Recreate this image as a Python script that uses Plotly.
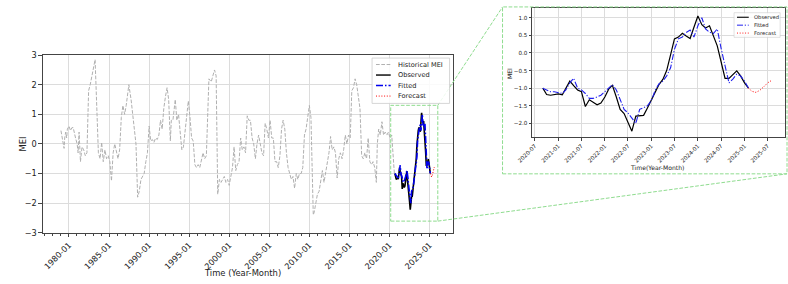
import plotly.graph_objects as go
import pandas as pd

W, H = 788, 284

# ---------------- data ----------------
hist_year = [1979.00, 1979.18, 1979.39, 1979.47, 1979.59, 1979.71, 1979.80, 1980.00, 1980.20, 1980.37,
             1980.53, 1980.82, 1981.02, 1981.14, 1981.26, 1981.43, 1981.63, 1981.84, 1982.04, 1982.24,
             1982.45, 1982.65, 1982.86, 1983.06, 1983.26, 1983.67, 1983.88, 1984.08, 1984.28, 1984.49,
             1984.69, 1984.90, 1985.10, 1985.30, 1985.51, 1985.71, 1985.92, 1986.12, 1986.32, 1986.53,
             1986.73, 1986.94, 1987.14, 1987.47, 1987.75, 1988.16, 1988.36, 1988.57, 1988.77, 1988.98,
             1989.18, 1989.38, 1989.59, 1989.79, 1990.00, 1990.20, 1990.40, 1990.60, 1990.81, 1991.02,
             1991.22, 1991.42, 1991.63, 1991.83, 1992.04, 1992.24, 1992.44, 1992.65, 1992.77, 1992.97,
             1993.26, 1993.46, 1993.67, 1993.87, 1994.08, 1994.28, 1994.48, 1994.69, 1994.89, 1995.10,
             1995.30, 1995.50, 1995.71, 1995.91, 1996.12, 1996.32, 1996.52, 1996.73, 1996.93, 1997.14,
             1997.46, 1997.75, 1997.95, 1998.16, 1998.36, 1998.56, 1998.77, 1998.97, 1999.18, 1999.38,
             1999.58, 1999.79, 1999.99, 2000.20, 2000.40, 2000.60, 2000.81, 2001.01, 2001.22, 2001.42,
             2001.62, 2001.83, 2002.03, 2002.24, 2002.44, 2002.64, 2002.85, 2003.05, 2003.26, 2003.46,
             2003.66, 2003.87, 2004.07, 2004.28, 2004.48, 2004.68, 2004.89, 2005.09, 2005.30, 2005.50,
             2005.70, 2005.91, 2006.11, 2006.32, 2006.52, 2006.72, 2006.93, 2007.13, 2007.34, 2007.54,
             2007.74, 2007.95, 2008.15, 2008.36, 2008.56, 2008.76, 2008.97, 2009.17, 2009.38, 2009.58,
             2009.78, 2009.99, 2010.19, 2010.48, 2010.60, 2010.80, 2011.00, 2011.21, 2011.42, 2011.62,
             2011.82, 2012.03, 2012.23, 2012.44, 2012.64, 2012.84, 2013.05, 2013.25, 2013.46, 2013.66,
             2013.86, 2014.07, 2014.27, 2014.48, 2014.68, 2014.88, 2015.09, 2015.29, 2015.50, 2015.70,
             2015.90, 2016.11, 2016.31, 2016.52, 2016.72, 2016.92, 2017.13, 2017.33, 2017.54, 2017.74,
             2017.94, 2018.15, 2018.35, 2018.47, 2018.64, 2018.84, 2019.05, 2019.25, 2019.45, 2019.66,
             2019.86, 2020.06, 2020.27, 2020.60]
hist_mei = [0.45, 0.10, -0.15, 0.20, 0.40, 0.20, 0.50, 0.60, 0.45, 0.55,
            0.55, 0.20, 0.00, -0.30, 0.40, -0.60, -0.10, -0.20, -0.40, -0.30,
            1.80, 2.00, 2.30, 2.60, 2.85, -0.30, -0.50, 0.05, -0.60, -0.20,
            -0.50, -0.40, -0.60, -1.25, -0.30, 0.00, -0.30, -0.50, -0.20, 0.90,
            1.30, 1.00, 1.30, 2.00, 1.50, 0.50, 0.00, -1.80, -1.60, -1.20,
            -1.10, -1.00, -0.60, -0.30, 0.60, 0.10, 0.15, 0.05, 0.20, 0.15,
            0.30, 0.80, 0.50, 1.20, 1.60, 1.90, 1.50, 0.10, 0.80, 0.80,
            1.50, 0.80, 1.00, 0.50, -0.20, -0.10, 0.50, 1.00, 1.45, 0.90,
            0.20, 0.10, -0.70, -0.80, -0.70, -0.80, -0.60, -0.30, -0.50, -0.40,
            2.20, 2.10, 2.30, 2.50, 2.30, -1.70, -1.20, -1.30, -1.20, -1.10,
            -1.30, -1.20, -1.40, -1.10, -0.80, -0.10, -0.90, -0.70, -0.60, 0.20,
            -0.20, -0.10, -0.30, 0.95, 0.80, 0.80, 0.20, 0.00, -0.50, 0.00,
            0.30, 0.00, -0.30, -0.40, 0.70, 0.50, 0.20, 0.80, 0.20, 0.20,
            -0.60, -0.60, -0.80, -0.40, 0.50, 0.80, 0.50, -0.30, -0.80, -1.00,
            -1.20, -1.10, -1.50, -1.00, -1.20, -1.00, -1.00, -0.80, 0.30, 0.50,
            0.90, 1.30, 0.90, -2.40, -2.30, -2.00, -1.70, -1.60, -1.30, -0.90,
            -1.30, -1.00, -0.60, -0.30, 0.25, -0.20, -0.10, -0.30, -1.15, -0.50,
            -0.30, -0.50, -0.20, 0.30, 0.00, 0.30, 0.20, 1.80, 1.90, 2.20,
            2.00, 1.60, 1.20, -0.40, -0.50, -0.30, -0.50, 0.20, -0.60, -0.70,
            -0.60, -0.80, -1.30, 0.00, 0.50, 0.30, 0.75, 0.30, 0.40, 0.30,
            0.40, 0.20, 0.30, -1.00]

obs_start = "2020-09-01"   # monthly, 2020-09 .. 2025-02
obs_mei = [-1.00, -1.18, -1.20, -1.17, -1.16, -1.19, -1.00, -0.80, -0.93, -1.05,
           -1.10, -1.52, -1.33, -1.40, -1.47, -1.42, -1.25, -1.02, -0.92, -1.25,
           -1.60, -1.72, -1.95, -2.22, -1.79, -1.77, -1.77, -1.56, -1.32, -1.10,
           -0.90, -0.75, -0.50, -0.05, 0.40, 0.45, 0.56, 0.48, 0.41, 0.73,
           1.05, 0.80, 0.71, 0.77, 0.50, 0.20, -0.25, -0.72, -0.72, -0.62,
           -0.51, -0.65, -0.85, -1.00]
fit_mei = [-1.00, -1.05, -1.10, -1.10, -1.12, -1.15, -1.05, -0.85, -0.72, -1.00,
           -1.05, -1.15, -1.29, -1.29, -1.25, -1.20, -1.10, -0.98, -0.90, -1.05,
           -1.35, -1.60, -1.70, -1.85, -2.00, -1.60, -1.54, -1.50, -1.35, -1.05,
           -0.88, -0.80, -0.65, -0.42, 0.10, 0.40, 0.45, 0.58, 0.65, 0.45,
           0.77, 1.00, 0.68, 0.59, 0.55, 0.68, 0.13, -0.35, -0.85, -0.74,
           -0.60, -0.65, -0.80, -1.00]
fc_start = "2025-02-01"
fc_mei = [-1.00, -1.09, -1.12, -1.06, -0.96, -0.85, -0.78]

main_ticks = ["1980-01", "1985-01", "1990-01", "1995-01", "2000-01", "2005-01",
              "2010-01", "2015-01", "2020-01", "2025-01"]
inset_ticks = ["2020-07", "2021-01", "2021-07", "2022-01", "2022-07", "2023-01",
               "2023-07", "2024-01", "2024-07", "2025-01", "2025-07"]


def yr2date(y):
    yi = int(y)
    start = pd.Timestamp(year=yi, month=1, day=1)
    return start + pd.Timedelta(days=(y - yi) * 365.25)


hist_x = [yr2date(v) for v in hist_year]
obs_x = pd.date_range(obs_start, periods=len(obs_mei), freq="MS")
fit_x = pd.date_range(obs_start, periods=len(fit_mei), freq="MS")
fc_x = pd.date_range(fc_start, periods=len(fc_mei), freq="MS")

FONT = "DejaVu Sans"
GREEN = "#8fdc8f"
GRID = "#dcdcdc"
AX = "#444444"
HIST = "#b0b0b0"
DASH = "3.7px,1.6px"
GDASH = "3.7px,1.6px"
DASHDOT_MAIN = "7px,2px,1.5px,2px"
DASHDOT_INSET = "6px,1.8px,1.2px,1.8px"
DOT = "1px,1.7px"


def px(x):
    return x / W


def py(y):
    return 1 - y / H


fig = go.Figure()

# ---- main panel
fig.add_trace(go.Scatter(x=hist_x, y=hist_mei, mode="lines", xaxis="x", yaxis="y",
                         line=dict(color=HIST, width=1, dash=DASH), showlegend=False))
fig.add_trace(go.Scatter(x=obs_x, y=obs_mei, mode="lines", xaxis="x", yaxis="y",
                         line=dict(color="black", width=1.6), showlegend=False))
fig.add_trace(go.Scatter(x=fit_x, y=fit_mei, mode="lines", xaxis="x", yaxis="y",
                         line=dict(color="#0000ee", width=1.6, dash=DASHDOT_MAIN), showlegend=False))
fig.add_trace(go.Scatter(x=fc_x, y=fc_mei, mode="lines", xaxis="x", yaxis="y",
                         line=dict(color="red", width=1, dash=DOT), showlegend=False))

# ---- inset panel
fig.add_trace(go.Scatter(x=obs_x, y=obs_mei, mode="lines", xaxis="x2", yaxis="y2",
                         line=dict(color="black", width=1.2), showlegend=False))
fig.add_trace(go.Scatter(x=fit_x, y=fit_mei, mode="lines", xaxis="x2", yaxis="y2",
                         line=dict(color="#2020ee", width=1.1, dash=DASHDOT_INSET), showlegend=False))
fig.add_trace(go.Scatter(x=fc_x, y=fc_mei, mode="lines", xaxis="x2", yaxis="y2",
                         line=dict(color="red", width=1, dash=DOT), showlegend=False))

axis_common = dict(showline=True, mirror=True, linecolor=AX, linewidth=0.8,
                   ticks="outside", tickcolor=AX, showgrid=True, gridcolor=GRID,
                   gridwidth=1, zeroline=False)

fig.update_layout(
    width=W, height=H, autosize=False,
    margin=dict(l=0, r=0, t=0, b=0),
    paper_bgcolor="white", plot_bgcolor="white",
    font=dict(family=FONT, color="#222222"),
    xaxis=dict(domain=[px(28.3), px(446.7)], anchor="y", type="date",
               range=["1976-09-24", "2027-12-10"],
               tickvals=[t + "-01" for t in main_ticks], ticktext=main_ticks,
               tickangle=-45, tickfont=dict(size=8.2), ticklen=3.5,
               minor=dict(ticks="outside", dtick="M12", ticklen=2, tickcolor=AX, showgrid=False),
               **axis_common),
    yaxis=dict(domain=[py(236), py(52)], anchor="x", range=[-3, 3], dtick=1,
               tickfont=dict(size=8.2), ticklen=3.5, **axis_common),
    xaxis2=dict(domain=[px(527), px(785)], anchor="y2", type="date",
                range=["2020-06-08", "2025-11-15"],
                tickvals=[t + "-01" for t in inset_ticks], ticktext=inset_ticks,
                tickangle=-45, tickfont=dict(size=5.6), ticklen=2.5, **axis_common),
    yaxis2=dict(domain=[py(137), py(3.3)], anchor="x2", range=[-2.39, 1.27], dtick=0.5,
                tickformat=".1f", tickfont=dict(size=5.6), ticklen=2.5, **axis_common),
)

shapes = []
annotations = []

# zoom rectangles and connectors
for (x0, y0, x1, y1, kind) in [(383, 224, 431, 104, "rect"), (497, 175, 787, 2, "rect"),
                               (431, 104, 497, 2, "line"), (431, 224, 787, 175, "line")]:
    shapes.append(dict(type=kind, xref="paper", yref="paper", x0=px(x0), x1=px(x1), y0=py(y0), y1=py(y1),
                       line=dict(color=GREEN, width=1, dash=GDASH), layer="above"))

# main legend
legend_items = [("Historical MEI", HIST, DASH, 1.0),
                ("Observed", "black", "solid", 1.4),
                ("Fitted", "#0000ee", DASHDOT_MAIN, 1.4),
                ("Forecast", "red", DOT, 1.0)]
shapes.append(dict(type="rect", xref="paper", yref="paper", x0=px(364), x1=px(443), y0=py(102), y1=py(55),
                   line=dict(color="#cccccc", width=0.8), fillcolor="rgba(255,255,255,0.85)", layer="above"))
for i, (name, col, dash, w) in enumerate(legend_items):
    yy = 61.7 + i * 10.9
    shapes.append(dict(type="line", xref="paper", yref="paper", x0=px(368), x1=px(383), y0=py(yy), y1=py(yy),
                       line=dict(color=col, width=w, dash=dash), layer="above"))
    annotations.append(dict(xref="paper", yref="paper", x=px(388), y=py(yy), text=name, showarrow=False,
                            xanchor="left", yanchor="middle", font=dict(size=6.6, family=FONT, color="#222")))

# inset legend
inset_items = [("Observed", "black", "solid", 1.1),
               ("Fitted", "#2020ee", DASHDOT_INSET, 1.0),
               ("Forecast", "red", DOT, 0.9)]
shapes.append(dict(type="rect", xref="paper", yref="paper", x0=px(733), x1=px(780), y0=py(33.5), y1=py(8),
                   line=dict(color="#cccccc", width=0.6), fillcolor="rgba(255,255,255,0.85)", layer="above"))
for i, (name, col, dash, w) in enumerate(inset_items):
    yy = 12.7 + i * 8.2
    shapes.append(dict(type="line", xref="paper", yref="paper", x0=px(736), x1=px(748), y0=py(yy), y1=py(yy),
                       line=dict(color=col, width=w, dash=dash), layer="above"))
    annotations.append(dict(xref="paper", yref="paper", x=px(751.5), y=py(yy), text=name, showarrow=False,
                            xanchor="left", yanchor="middle", font=dict(size=5.2, family=FONT, color="#222")))

# axis titles
annotations.append(dict(xref="paper", yref="paper", x=px(232), y=py(278), text="Time (Year-Month)",
                        showarrow=False, xanchor="center", yanchor="middle", font=dict(size=8.4, family=FONT)))
annotations.append(dict(xref="paper", yref="paper", x=px(0.5), y=py(144), text="MEI", textangle=-90,
                        showarrow=False, xanchor="left", yanchor="middle", font=dict(size=8.4, family=FONT)))
annotations.append(dict(xref="paper", yref="paper", x=px(654.7), y=py(168.5), text="Time(Year-Month)",
                        showarrow=False, xanchor="center", yanchor="middle", font=dict(size=6.1, family=FONT)))
annotations.append(dict(xref="paper", yref="paper", x=px(498.5), y=py(71), text="MEI", textangle=-90,
                        showarrow=False, xanchor="left", yanchor="middle", font=dict(size=6.1, family=FONT)))

fig.update_layout(shapes=shapes, annotations=annotations)
fig.write_html("out.html")
